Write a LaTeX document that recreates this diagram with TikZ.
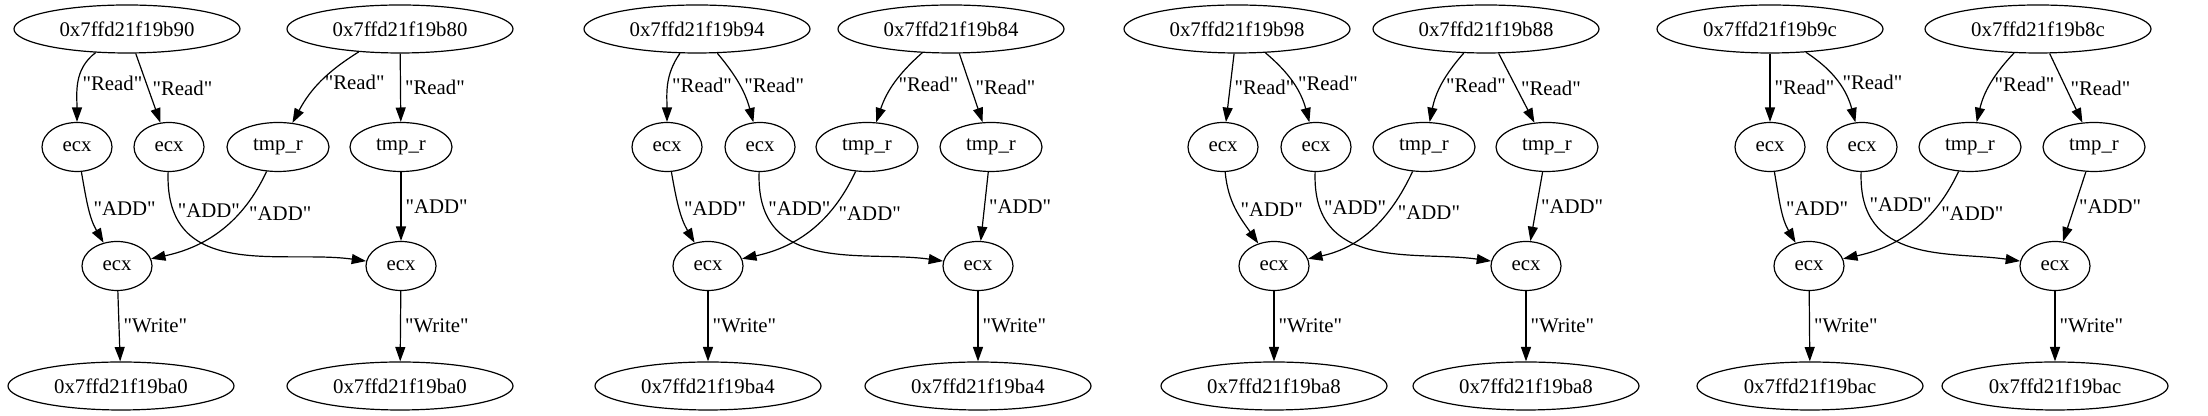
\documentclass[tikz,border=0pt]{standalone}
\usepackage{fontspec}
\setmainfont{Liberation Serif}[Ligatures=TeXOff]
\usetikzlibrary{arrows.meta, shapes.geometric}

\begin{document}
\begin{tikzpicture}[
    x=0.5pt, y=0.5pt,
    every node/.style={font=\fontsize{10.4}{12}\selectfont},
    % memory cells, registers, temporaries
    mem/.style={ellipse, draw, line width=0.6pt, minimum width=113pt, minimum height=24pt, inner sep=0pt},
    reg/.style={ellipse, draw, line width=0.6pt, minimum width=35pt, minimum height=24.5pt, inner sep=0pt},
    tmp/.style={ellipse, draw, line width=0.6pt, minimum width=51pt, minimum height=24.5pt, inner sep=0pt},
    % data flow arrow
    arrow/.style={-{Triangle[length=7.2pt, width=5pt]}, line width=0.6pt},
    % long crossing arrow
    cross/.style={out=-92, in=172, out looseness=1.3},
    % edge label
    lbl/.style={right, inner sep=2pt}
]
\useasboundingbox (0,0) rectangle (2208,416);

% === GROUP 1 ===
\node[mem] (memB90) at (127,387) {0x7ffd21f19b90};
\node[mem] (memB80) at (400,387) {0x7ffd21f19b80};
\node[reg] (ecxL1) at (77,269) {ecx};
\node[reg] (ecxR1) at (169,269) {ecx};
\node[tmp] (tmpL1) at (278,269) {tmp\_r};
\node[tmp] (tmpR1) at (401,269) {tmp\_r};
\node[reg] (sumL1) at (117,150) {ecx};
\node[reg] (sumR1) at (401,150) {ecx};
\node[mem] (outL1) at (121,30) {0x7ffd21f19ba0};
\node[mem] (outR1) at (400,30) {0x7ffd21f19ba0};

\draw[arrow] (memB90) to[out=217, in=90] node[lbl] {"Read"} (ecxL1);
\draw[arrow] (memB90) -- node[lbl] {"Read"} (ecxR1);
\draw[arrow] (memB80) to[bend right=15] node[lbl] {"Read"} (tmpL1);
\draw[arrow] (memB80) -- node[lbl] {"Read"} (tmpR1);
\draw[arrow] (ecxL1) to[out=-80, in=120] node[lbl] {"ADD"} (sumL1);
\draw[arrow] (ecxR1) to[cross] node[lbl, pos=0.14] {"ADD"} (sumR1);
\draw[arrow] (tmpL1) to[out=245, in=12] node[lbl, pos=0.33, xshift=3pt] {"ADD"} (sumL1);
\draw[arrow] (tmpR1) -- node[lbl] {"ADD"} (sumR1);
\draw[arrow] (sumL1) -- node[lbl] {"Write"} (outL1);
\draw[arrow] (sumR1) -- node[lbl] {"Write"} (outR1);

% === GROUP 2 ===
\node[mem] (memB94) at (697,387) {0x7ffd21f19b94};
\node[mem] (memB84) at (951,387) {0x7ffd21f19b84};
\node[reg] (ecxL2) at (667,269) {ecx};
\node[reg] (ecxR2) at (760,269) {ecx};
\node[tmp] (tmpL2) at (867,269) {tmp\_r};
\node[tmp] (tmpR2) at (991,269) {tmp\_r};
\node[reg] (sumL2) at (708,150) {ecx};
\node[reg] (sumR2) at (978,150) {ecx};
\node[mem] (outL2) at (708,30) {0x7ffd21f19ba4};
\node[mem] (outR2) at (978,30) {0x7ffd21f19ba4};

\draw[arrow] (memB94) to[out=235, in=90] node[lbl] {"Read"} (ecxL2);
\draw[arrow] (memB94) to[out=-50, in=105] node[lbl] {"Read"} (ecxR2);
\draw[arrow] (memB84) to[bend right=15] node[lbl] {"Read"} (tmpL2);
\draw[arrow] (memB84) -- node[lbl] {"Read"} (tmpR2);
\draw[arrow] (ecxL2) to[out=-80, in=120] node[lbl] {"ADD"} (sumL2);
\draw[arrow] (ecxR2) to[cross] node[lbl, pos=0.14] {"ADD"} (sumR2);
\draw[arrow] (tmpL2) to[out=245, in=12] node[lbl, pos=0.33, xshift=3pt] {"ADD"} (sumL2);
\draw[arrow] (tmpR2) -- node[lbl] {"ADD"} (sumR2);
\draw[arrow] (sumL2) -- node[lbl] {"Write"} (outL2);
\draw[arrow] (sumR2) -- node[lbl] {"Write"} (outR2);

% === GROUP 3 ===
\node[mem] (memB98) at (1237,387) {0x7ffd21f19b98};
\node[mem] (memB88) at (1486,387) {0x7ffd21f19b88};
\node[reg] (ecxL3) at (1223,269) {ecx};
\node[reg] (ecxR3) at (1316,269) {ecx};
\node[tmp] (tmpL3) at (1424,269) {tmp\_r};
\node[tmp] (tmpR3) at (1547,269) {tmp\_r};
\node[reg] (sumL3) at (1274,150) {ecx};
\node[reg] (sumR3) at (1526,150) {ecx};
\node[mem] (outL3) at (1274,30) {0x7ffd21f19ba8};
\node[mem] (outR3) at (1526,30) {0x7ffd21f19ba8};

\draw[arrow] (memB98) -- node[lbl] {"Read"} (ecxL3);
\draw[arrow] (memB98) to[out=-40, in=105] node[lbl] {"Read"} (ecxR3);
\draw[arrow] (memB88) to[bend right=15] node[lbl] {"Read"} (tmpL3);
\draw[arrow] (memB88) -- node[lbl] {"Read"} (tmpR3);
\draw[arrow] (ecxL3) to[out=-85, in=125] node[lbl] {"ADD"} (sumL3);
\draw[arrow] (ecxR3) to[cross] node[lbl, pos=0.14] {"ADD"} (sumR3);
\draw[arrow] (tmpL3) to[out=245, in=12] node[lbl, pos=0.33, xshift=3pt] {"ADD"} (sumL3);
\draw[arrow] (tmpR3) -- node[lbl] {"ADD"} (sumR3);
\draw[arrow] (sumL3) -- node[lbl] {"Write"} (outL3);
\draw[arrow] (sumR3) -- node[lbl] {"Write"} (outR3);

% === GROUP 4 ===
\node[mem] (memB9c) at (1770,387) {0x7ffd21f19b9c};
\node[mem] (memB8c) at (2038,387) {0x7ffd21f19b8c};
\node[reg] (ecxL4) at (1770,269) {ecx};
\node[reg] (ecxR4) at (1862,269) {ecx};
\node[tmp] (tmpL4) at (1970,269) {tmp\_r};
\node[tmp] (tmpR4) at (2094,269) {tmp\_r};
\node[reg] (sumL4) at (1809,150) {ecx};
\node[reg] (sumR4) at (2055,150) {ecx};
\node[mem] (outL4) at (1810,30) {0x7ffd21f19bac};
\node[mem] (outR4) at (2055,30) {0x7ffd21f19bac};

\draw[arrow] (memB9c) -- node[lbl] {"Read"} (ecxL4);
\draw[arrow] (memB9c) to[out=-33, in=105] node[lbl] {"Read"} (ecxR4);
\draw[arrow] (memB8c) to[bend right=15] node[lbl] {"Read"} (tmpL4);
\draw[arrow] (memB8c) -- node[lbl] {"Read"} (tmpR4);
\draw[arrow] (ecxL4) to[out=-80, in=120] node[lbl] {"ADD"} (sumL4);
\draw[arrow] (ecxR4) to[cross] node[lbl, pos=0.14] {"ADD"} (sumR4);
\draw[arrow] (tmpL4) to[out=245, in=12] node[lbl, pos=0.33, xshift=3pt] {"ADD"} (sumL4);
\draw[arrow] (tmpR4) -- node[lbl] {"ADD"} (sumR4);
\draw[arrow] (sumL4) -- node[lbl] {"Write"} (outL4);
\draw[arrow] (sumR4) -- node[lbl] {"Write"} (outR4);

\end{tikzpicture}
\end{document}
